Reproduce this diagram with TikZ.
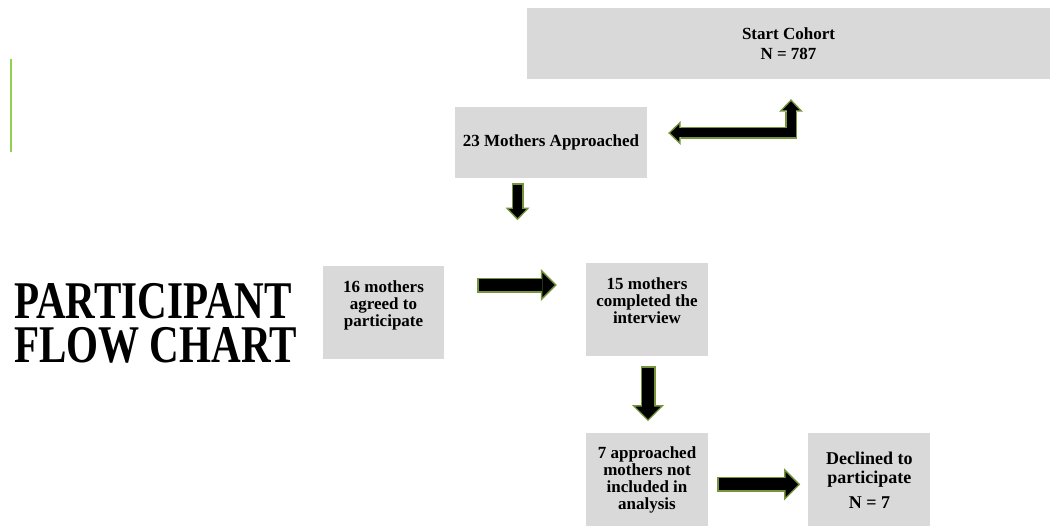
\documentclass[tikz,border=0pt]{standalone}
\usepackage{fontspec}
\setmainfont{Liberation Serif}
\usepackage{graphicx}
\usetikzlibrary{arrows.meta,positioning,calc}
\definecolor{BoxGray}{RGB}{217,217,217}
\definecolor{RimGreen}{RGB}{119,147,60}
\definecolor{BarGreen}{RGB}{146,208,80}
\newcommand{\titlefit}[1]{\scalebox{0.775}[1]{#1}}

\begin{document}
\begin{tikzpicture}[x=1pt,y=-1pt,node distance=77pt,every node/.style={font=\bfseries\fontsize{17}{17}\selectfont}]
\tikzset{box/.style={fill=BoxGray,inner sep=0pt,align=center,minimum width=122pt,minimum height=93pt},
 rimS/.tip={Triangle[length=12.5pt,width=24pt,line width=0pt]},
 coreS/.tip={Triangle[length=8.8pt,width=17pt,line width=0pt]},
 rimL/.tip={Triangle[length=16pt,width=32pt,line width=0pt]},
 coreL/.tip={Triangle[length=12.4pt,width=24.8pt,line width=0pt]},
 small arrow/.style={draw=black,line width=9pt,shorten <=1.5pt,shorten >=2.2pt,-{coreS},
   preaction={draw=RimGreen,line width=12pt,shorten <=0pt,shorten >=0pt,-{rimS}}},
 small link/.style={draw=black,line width=9pt,shorten <=2.2pt,shorten >=2.2pt,{coreS}-{coreS},
   preaction={draw=RimGreen,line width=12pt,shorten <=0pt,shorten >=0pt,{rimS}-{rimS}}},
 big arrow/.style={draw=black,line width=12pt,shorten <=1.5pt,shorten >=2.1pt,-{coreL},
   preaction={draw=RimGreen,line width=15pt,shorten <=0pt,shorten >=0pt,-{rimL}}}}
\useasboundingbox (0,0) rectangle (1054,529);
\draw[BarGreen,line width=2.5pt] (11,59) -- (11,152);
\node[anchor=north west,inner sep=0pt,align=left,font=\bfseries\fontsize{53}{44}\selectfont] (title) at (14,283) {\titlefit{PARTICIPANT}\\\titlefit{FLOW CHART}};
\node[box,minimum width=523pt,minimum height=71pt] (cohort) at (788.5,43.5) {Start Cohort\\[3pt]N = 787};
\node[box,minimum width=192pt,minimum height=71pt] (appr) at (551,142.5) {23 Mothers Approached};
\node[box,minimum width=121pt] (agreed) at (383.5,312.5) {16 mothers\\agreed to\\participate\\\vphantom{X}};
\node[box] (done) at (647,309.5) {15 mothers\\completed the\\interview\\\vphantom{X}};
\node[box,below=of done] (missed) {7 approached\\mothers not\\included in\\analysis};
\node[box,right=100pt of missed,font=\bfseries\fontsize{18}{19}\selectfont] (declined) {Declined to\\participate\\[6pt]N = 7};
\draw[small link] ($(appr.east)+(21,-9.5)$) -| ($(cohort.south)+(2.5,20)$);
\draw[small arrow] ($(appr.south)+(-33.5,5)$) -- ++(0,37);
\draw[big arrow] ($(agreed.east)+(33,-27.5)$) -- ($(done.west)+(-29,-24.5)$);
\draw[big arrow] ($(done.south)+(1,10)$) -- ($(missed.north)+(1,-12)$);
\draw[big arrow] ($(missed.east)+(9,4.5)$) -- ($(declined.west)+(-8,4.5)$);
\end{tikzpicture}
\end{document}
